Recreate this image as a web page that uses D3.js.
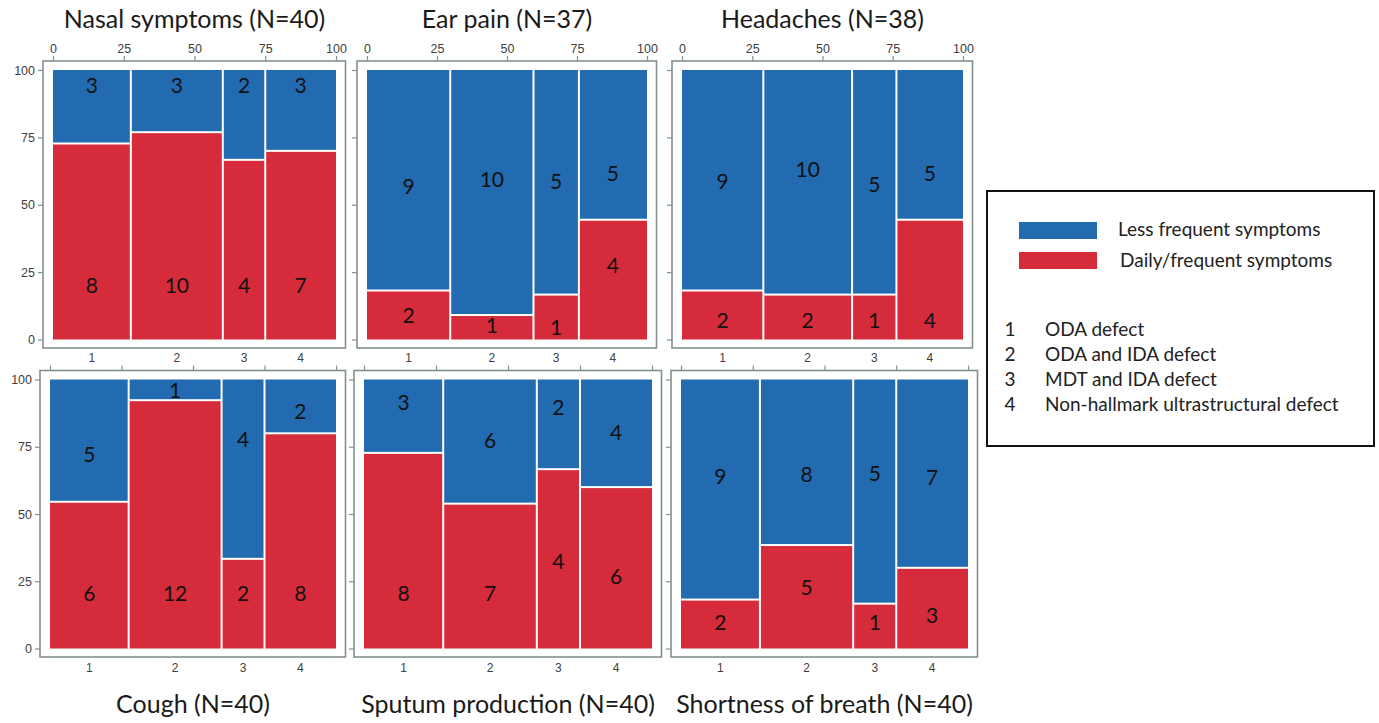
<!DOCTYPE html>
<html>
<head>
<meta charset="utf-8">
<script src="https://cdn.jsdelivr.net/npm/d3@7"></script>
<style>
  html, body { margin: 0; padding: 0; background: #ffffff; }
  svg { display: block; }
</style>
</head>
<body>
<svg id="chart" width="1379" height="723"></svg>
<script>
// ---------------- DATA ----------------
const categories = ["1", "2", "3", "4"];
const panelTitles = [
  "Nasal symptoms (N=40)", "Ear pain (N=37)", "Headaches (N=38)",
  "Cough (N=40)", "Sputum production (N=40)", "Shortness of breath (N=40)"
];
// counts per defect category (1..4)
const lessFrequent = [
  [3, 3, 2, 3],
  [9, 10, 5, 5],
  [9, 10, 5, 5],
  [5, 1, 4, 2],
  [3, 6, 2, 4],
  [9, 8, 5, 7]
];
const dailyFrequent = [
  [8, 10, 4, 7],
  [2, 1, 1, 4],
  [2, 2, 1, 4],
  [6, 12, 2, 8],
  [8, 7, 4, 6],
  [2, 5, 1, 3]
];
// where the count labels sit, in percent units on the y scale (as placed in the original)
const lessLabelPct = [
  [94.5, 94.5, 94.8, 94.8],
  [57, 59.6, 59, 62],
  [58.9, 63.3, 58, 62],
  [72.5, 96.3, 78, 88.5],
  [92, 77.7, 90, 80.6],
  [64.3, 65, 65.4, 64]
];
const dailyLabelPct = [
  [20.4, 20.4, 20.4, 20.4],
  [9.3, 5.6, 4.8, 27.8],
  [7.4, 7.4, 7.4, 7.4],
  [20.8, 20.8, 20.8, 20.8],
  [20.8, 20.8, 32.7, 27.1],
  [10, 23, 10, 12.6]
];
const xTickValues = [0, 25, 50, 75, 100];
const yTickValues = [0, 25, 50, 75, 100];
const seriesNames = ["Less frequent symptoms", "Daily/frequent symptoms"];
const defectNames = ["ODA defect", "ODA and IDA defect", "MDT and IDA defect", "Non-hallmark ultrastructural defect"];

// ---------------- LAYOUT ----------------
const COLORS = { less: "#236bb0", daily: "#d52b3b" };
const FRAME = "#82908f";
const TICKTXT = "#404040";
const titleFont = "Lato, 'Open Sans', sans-serif";
const tickFont = "'Liberation Sans', Arial, sans-serif";

const rows = [
  { y0: 339.5, y100: 70, titleY: 18, catY: 358, showXLabels: true },
  { y0: 648.5, y100: 379.5, titleY: 703, catY: 668, showXLabels: false }
];
const cols = [
  [[53, 336], [367, 647], [682, 963]],
  [[50, 336], [364, 652], [681, 968]]
];

const svg = d3.select("#chart");

panelTitles.forEach((title, p) => {
  const r = Math.floor(p / 3), c = p % 3;
  const row = rows[r];
  const [xa, xb] = cols[r][c];
  const x = d3.scaleLinear().domain([0, 100]).range([xa, xb]);
  const y = d3.scaleLinear().domain([0, 100]).range([row.y0, row.y100]);
  const g = svg.append("g");

  const fx0 = xa - 10, fx1 = xb + 9.5;
  const fy0 = row.y100 - 9, fy1 = row.y0 + 8.5;

  // frame
  g.append("rect")
    .attr("x", fx0).attr("y", fy0)
    .attr("width", fx1 - fx0).attr("height", fy1 - fy0)
    .attr("fill", "#fff").attr("stroke", FRAME).attr("stroke-width", 1.6);

  // mosaic bars
  const totals = categories.map((_, i) => lessFrequent[p][i] + dailyFrequent[p][i]);
  const N = d3.sum(totals);
  let cum = 0;
  categories.forEach((cat, i) => {
    const start = cum / N * 100;
    cum += totals[i];
    const end = cum / N * 100;
    const dailyPct = dailyFrequent[p][i] / totals[i] * 100;
    const bx0 = x(start) + (i === 0 ? 0 : 1);
    const bx1 = x(end) - (i === categories.length - 1 ? 0 : 1);
    // daily (bottom)
    g.append("rect")
      .attr("x", bx0).attr("width", bx1 - bx0)
      .attr("y", y(dailyPct) + 1).attr("height", y(0) - y(dailyPct) - 1)
      .attr("fill", COLORS.daily);
    // less (top)
    g.append("rect")
      .attr("x", bx0).attr("width", bx1 - bx0)
      .attr("y", y(100)).attr("height", y(dailyPct) - y(100) - 1)
      .attr("fill", COLORS.less);
    const cx = (x(start) + x(end)) / 2;
    g.append("text").attr("x", cx).attr("y", y(lessLabelPct[p][i]))
      .attr("text-anchor", "middle").attr("dominant-baseline", "central")
      .style("font-family", titleFont).style("font-size", "21px").attr("fill", "#111")
      .text(lessFrequent[p][i]);
    g.append("text").attr("x", cx).attr("y", y(dailyLabelPct[p][i]))
      .attr("text-anchor", "middle").attr("dominant-baseline", "central")
      .style("font-family", titleFont).style("font-size", "21px").attr("fill", "#111")
      .text(dailyFrequent[p][i]);
    // category label below frame
    g.append("text").attr("x", cx).attr("y", row.catY)
      .attr("text-anchor", "middle").attr("dominant-baseline", "central")
      .style("font-family", tickFont).style("font-size", "12px").attr("fill", TICKTXT)
      .text(cat);
  });

  // top axis
  const xAxis = d3.axisTop(x).tickValues(xTickValues).tickSize(5).tickPadding(3)
    .tickFormat(row.showXLabels ? d3.format("d") : () => "");
  const xg = g.append("g").attr("transform", `translate(0,${fy0})`).call(xAxis);
  xg.select(".domain").remove();
  xg.selectAll("line").attr("stroke", FRAME).attr("stroke-width", 1.2);
  xg.selectAll("text").style("font-family", tickFont).style("font-size", "12.5px").attr("fill", TICKTXT);

  // left axis
  const yAxis = d3.axisLeft(y).tickValues(yTickValues).tickSize(5).tickPadding(3)
    .tickFormat(c === 0 ? d3.format("d") : () => "");
  const yg = g.append("g").attr("transform", `translate(${fx0},0)`).call(yAxis);
  yg.select(".domain").remove();
  yg.selectAll("line").attr("stroke", FRAME).attr("stroke-width", 1.2);
  yg.selectAll("text").style("font-family", tickFont).style("font-size", "12.5px").attr("fill", TICKTXT);

  // title
  svg.append("text").attr("x", (xa + xb) / 2).attr("y", row.titleY)
    .attr("text-anchor", "middle").attr("dominant-baseline", "central")
    .style("font-family", titleFont).style("font-size", "25px").attr("fill", "#1a1a1a")
    .text(title);
});

// ---------------- LEGEND ----------------
const lg = svg.append("g");
lg.append("rect").attr("x", 987).attr("y", 191).attr("width", 387).attr("height", 255)
  .attr("fill", "#fff").attr("stroke", "#111").attr("stroke-width", 2);
const swatchColors = [COLORS.less, COLORS.daily];
seriesNames.forEach((name, i) => {
  lg.append("rect").attr("x", 1019).attr("y", 222 + i * 30).attr("width", 78).attr("height", 17)
    .attr("fill", swatchColors[i]);
  lg.append("text").attr("x", 1118 + i * 2).attr("y", 228 + i * 31)
    .attr("dominant-baseline", "central")
    .style("font-family", titleFont).style("font-size", "19px").attr("fill", "#222")
    .text(name);
});
defectNames.forEach((name, i) => {
  lg.append("text").attr("x", 1010).attr("y", 328 + i * 25)
    .attr("text-anchor", "middle").attr("dominant-baseline", "central")
    .style("font-family", titleFont).style("font-size", "19px").attr("fill", "#222")
    .text(categories[i]);
  lg.append("text").attr("x", 1045).attr("y", 328 + i * 25)
    .attr("dominant-baseline", "central")
    .style("font-family", titleFont).style("font-size", "19px").attr("fill", "#222")
    .text(name);
});
</script>
</body>
</html>
